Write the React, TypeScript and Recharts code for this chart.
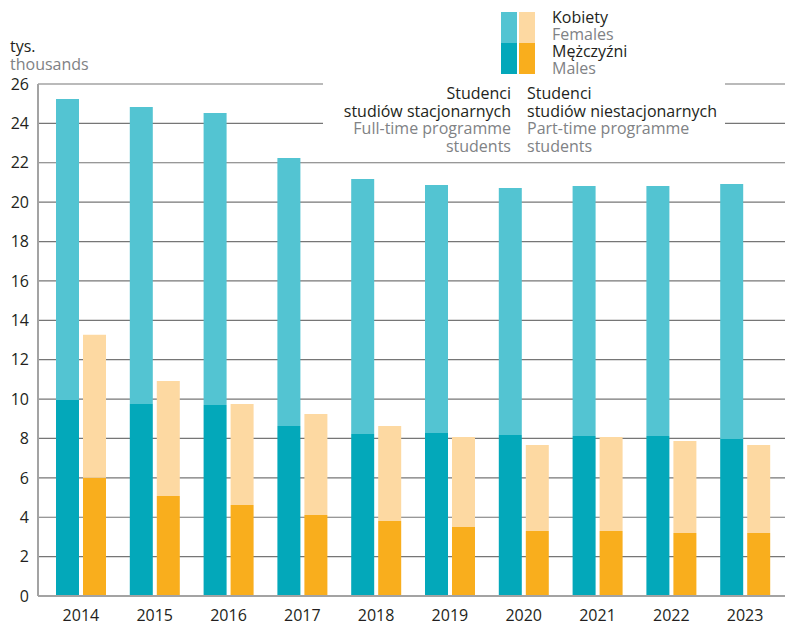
import { Bar, BarChart, CartesianGrid, XAxis, YAxis } from "recharts";

const years = ["2014", "2015", "2016", "2017", "2018", "2019", "2020", "2021", "2022", "2023"];

// thousands of students
const fullTimeMales = [9.95, 9.75, 9.7, 8.63, 8.23, 8.28, 8.18, 8.13, 8.13, 7.97];
const fullTimeFemales = [15.29, 15.08, 14.83, 13.61, 12.95, 12.59, 12.54, 12.69, 12.69, 12.95];
const partTimeMales = [6.0, 5.08, 4.62, 4.11, 3.81, 3.5, 3.3, 3.3, 3.2, 3.2];
const partTimeFemales = [7.27, 5.84, 5.13, 5.13, 4.82, 4.57, 4.37, 4.77, 4.67, 4.47];

const yTicks = [0, 2, 4, 6, 8, 10, 12, 14, 16, 18, 20, 22, 24, 26];

const data = years.map((year, i) => ({
  year,
  ftM: fullTimeMales[i],
  ftF: fullTimeFemales[i],
  ptM: partTimeMales[i],
  ptF: partTimeFemales[i],
}));

const colors = {
  ftM: "#03a8ba",
  ftF: "#53c4d2",
  ptM: "#f9ae1d",
  ptF: "#fdd9a2",
};

const font = "'Open Sans', sans-serif";
const dark = "#231f20";
const grey = "#808285";

const line = { height: 17.5, whiteSpace: "nowrap" as const };

export default function App() {
  return (
    <div style={{ position: "absolute", left: 0, top: 0, width: 785, height: 625, fontFamily: font, fontSize: 16, background: "white" }}>
      <BarChart
        width={785}
        height={625}
        data={data}
        margin={{ top: 84, right: 0, bottom: 0, left: 0 }}
        barSize={23}
        barGap={4}
      >
        <CartesianGrid vertical={false} stroke="#767676" strokeWidth={1.2} />
        <XAxis
          dataKey="year"
          axisLine={{ stroke: "#a3a3a3", strokeWidth: 2 }}
          tickLine={false}
          tickMargin={8}
          height={29}
          padding={{ left: 6, right: 3 }}
          tick={{ fill: dark, fontSize: 16, fontFamily: font }}
        />
        <YAxis
          domain={[0, 26]}
          ticks={yTicks}
          interval={0}
          width={38}
          axisLine={{ stroke: "#a3a3a3", strokeWidth: 2 }}
          tickLine={false}
          tickMargin={3}
          tick={{ fill: dark, fontSize: 16, fontFamily: font }}
        />
        <Bar dataKey="ftM" stackId="ft" fill={colors.ftM} isAnimationActive={false} />
        <Bar dataKey="ftF" stackId="ft" fill={colors.ftF} isAnimationActive={false} />
        <Bar dataKey="ptM" stackId="pt" fill={colors.ptM} isAnimationActive={false} />
        <Bar dataKey="ptF" stackId="pt" fill={colors.ptF} isAnimationActive={false} />
      </BarChart>

      {/* unit label */}
      <div style={{ position: "absolute", left: 10, top: 37, lineHeight: "18px" }}>
        <div style={{ color: dark }}>tys.</div>
        <div style={{ color: grey }}>thousands</div>
      </div>

      {/* legend swatches */}
      <div style={{ position: "absolute", left: 501, top: 12, width: 16, height: 31, background: colors.ftF }} />
      <div style={{ position: "absolute", left: 501, top: 43, width: 16, height: 31, background: colors.ftM }} />
      <div style={{ position: "absolute", left: 519, top: 12, width: 16, height: 31, background: colors.ptF }} />
      <div style={{ position: "absolute", left: 519, top: 43, width: 16, height: 31, background: colors.ptM }} />
      <div style={{ position: "absolute", left: 552, top: 9, lineHeight: "17px" }}>
        <div style={{ height: 17, whiteSpace: "nowrap", color: dark }}>Kobiety</div>
        <div style={{ height: 17, whiteSpace: "nowrap", color: grey }}>Females</div>
        <div style={{ height: 17, whiteSpace: "nowrap", color: dark }}>Mężczyźni</div>
        <div style={{ height: 17, whiteSpace: "nowrap", color: grey }}>Males</div>
      </div>

      {/* series headers, masking the gridlines behind them */}
      <div style={{ position: "absolute", left: 323, top: 82, width: 402, height: 74, background: "white" }} />
      <div style={{ position: "absolute", right: 785 - 511, top: 85, lineHeight: "17.5px", textAlign: "right" }}>
        <div style={{ ...line, color: dark }}>Studenci</div>
        <div style={{ ...line, color: dark }}>studiów stacjonarnych</div>
        <div style={{ ...line, color: grey }}>Full-time programme</div>
        <div style={{ ...line, color: grey }}>students</div>
      </div>
      <div style={{ position: "absolute", left: 527, top: 85, lineHeight: "17.5px" }}>
        <div style={{ ...line, color: dark }}>Studenci</div>
        <div style={{ ...line, color: dark }}>studiów niestacjonarnych</div>
        <div style={{ ...line, color: grey }}>Part-time programme</div>
        <div style={{ ...line, color: grey }}>students</div>
      </div>
    </div>
  );
}
